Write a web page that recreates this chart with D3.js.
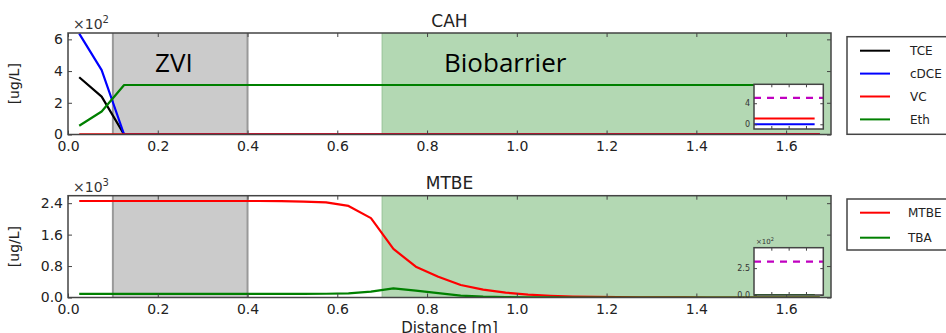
<!DOCTYPE html>
<html>
<head>
<meta charset="utf-8">
<script src="https://cdn.jsdelivr.net/npm/d3@7"></script>
<style>
  html, body { margin: 0; padding: 0; background: #fff; }
  svg { display: block; font-family: "DejaVu Sans", sans-serif; }
</style>
</head>
<body>
<svg id="chart" width="946" height="333"></svg>
<script>
// Distance along the column [m] (cell centres)
const distance = [0.025, 0.075, 0.125, 0.175, 0.225, 0.275, 0.325, 0.375, 0.425, 0.475,
                  0.525, 0.575, 0.625, 0.675, 0.725, 0.775, 0.825, 0.875, 0.925, 0.975,
                  1.025, 1.075, 1.125, 1.175, 1.225, 1.275, 1.325, 1.375, 1.425, 1.475,
                  1.525, 1.575, 1.625, 1.675];

// Chlorinated solvents and products [ug/L]
const tce  = [361, 239, 0, 0, 0, 0, 0, 0, 0, 0, 0, 0, 0, 0, 0, 0, 0, 0, 0, 0,
              0, 0, 0, 0, 0, 0, 0, 0, 0, 0, 0, 0, 0, 0];
const cdce = [636, 406, 0, 0, 0, 0, 0, 0, 0, 0, 0, 0, 0, 0, 0, 0, 0, 0, 0, 0,
              0, 0, 0, 0, 0, 0, 0, 0, 0, 0, 0, 0, 0, 0];
const vc   = [0.2, 0.6, 1.1, 1.1, 1.1, 1.1, 1.1, 1.1, 1.1, 1.1, 1.1, 1.1, 1.1, 1.1, 1.1, 1.1, 1.1,
              1.1, 1.1, 1.1, 1.1, 1.1, 1.1, 1.1, 1.1, 1.1, 1.1, 1.1, 1.1, 1.1, 1.1, 1.1, 1.1, 1.1];
const eth  = [55, 145, 312, 312, 312, 312, 312, 312, 312, 312, 312, 312, 312, 312, 312, 312, 312,
              312, 312, 312, 312, 312, 312, 312, 312, 312, 312, 312, 312, 312, 312, 312, 312, 312];

// Fuel oxygenates [ug/L]
const mtbe = [2455, 2455, 2455, 2455, 2455, 2455, 2455, 2455, 2455, 2452, 2440, 2420, 2330, 2020,
              1235, 785, 530, 318, 200, 125, 75, 45, 26, 15, 8, 4, 2, 1, 0, 0, 0, 0, 0, 0];
const tba  = [90, 90, 90, 90, 90, 90, 90, 90, 90, 90, 90, 95, 105, 150, 234, 175, 110, 50, 22, 10,
              4, 2, 0, 0, 0, 0, 0, 0, 0, 0, 0, 0, 0, 0];

// Regulatory limits shown in the zoom insets [ug/L]
const limitCAH = 5;
const limitMTBE = 310;

// Treatment zones [m]
const zviZone = [0.1, 0.4];
const bioZone = [0.7, 1.7];

// Axis ticks
const xTicks = [0, 0.2, 0.4, 0.6, 0.8, 1.0, 1.2, 1.4, 1.6];
const yTicksCAH = [0, 200, 400, 600];
const yTicksMTBE = [0, 800, 1600, 2400];
const insetXTicks = [1.55, 1.6, 1.65];
const insetYTicksCAH = [0, 4];
const insetYTicksMTBE = [0, 250];

const seriesCAH = [
  { name: "TCE",  values: tce,  color: "#000000" },
  { name: "cDCE", values: cdce, color: "#0000ff" },
  { name: "VC",   values: vc,   color: "#ff0000" },
  { name: "Eth",  values: eth,  color: "#008000" }
];
const seriesMTBE = [
  { name: "MTBE", values: mtbe, color: "#ff0000" },
  { name: "TBA",  values: tba,  color: "#008000" }
];

const svg = d3.select("#chart");
const frameColor = "#444";
const textColor = "#222";

const x = d3.scaleLinear().domain([0, 1.7]).range([68, 831]);

function drawPanel(cfg) {
  const g = svg.append("g");
  const y = d3.scaleLinear().domain(cfg.yDomain).range([cfg.bottom, cfg.top]);
  const clipId = "clip-" + cfg.id;
  svg.append("clipPath").attr("id", clipId).append("rect")
    .attr("x", x.range()[0]).attr("y", cfg.top)
    .attr("width", x.range()[1] - x.range()[0]).attr("height", cfg.bottom - cfg.top);

  // treatment zones
  g.append("rect").attr("x", x(zviZone[0])).attr("y", cfg.top)
    .attr("width", x(zviZone[1]) - x(zviZone[0])).attr("height", cfg.bottom - cfg.top)
    .attr("fill", "#cbcbcb");
  [zviZone[0], zviZone[1]].forEach(v => {
    g.append("line").attr("x1", x(v)).attr("x2", x(v)).attr("y1", cfg.top).attr("y2", cfg.bottom)
      .attr("stroke", "#999").attr("stroke-width", 2);
  });
  g.append("rect").attr("x", x(bioZone[0])).attr("y", cfg.top)
    .attr("width", x(bioZone[1]) - x(bioZone[0])).attr("height", cfg.bottom - cfg.top)
    .attr("fill", "#b3d8b3");
  g.append("line").attr("x1", x(bioZone[0])).attr("x2", x(bioZone[0])).attr("y1", cfg.top).attr("y2", cfg.bottom)
    .attr("stroke", "#9cc69c").attr("stroke-width", 1.2);

  // concentration profiles
  const line = d3.line().x((d, i) => x(distance[i])).y(d => y(d));
  const lg = g.append("g").attr("clip-path", `url(#${clipId})`);
  cfg.series.forEach(s => {
    lg.append("path").datum(s.values).attr("d", line)
      .attr("fill", "none").attr("stroke", s.color).attr("stroke-width", 2.2)
      .attr("stroke-linejoin", "round");
  });

  // axes (inward ticks on all four sides)
  const fs = "14px";
  const ax = g.append("g").attr("transform", `translate(0,${cfg.bottom})`)
    .call(d3.axisBottom(x).tickValues(xTicks).tickSizeInner(-4).tickSizeOuter(0).tickPadding(7)
      .tickFormat(d3.format(".1f")));
  ax.select(".domain").remove();
  ax.selectAll("text").attr("font-size", fs).attr("fill", textColor).attr("font-family", "DejaVu Sans");
  ax.selectAll("line").attr("stroke", frameColor);
  const axT = g.append("g").attr("transform", `translate(0,${cfg.top})`)
    .call(d3.axisTop(x).tickValues(xTicks).tickSizeInner(-4).tickSizeOuter(0).tickFormat(""));
  axT.select(".domain").remove();
  axT.selectAll("line").attr("stroke", frameColor);
  const ayL = g.append("g").attr("transform", `translate(${x.range()[0]},0)`)
    .call(d3.axisLeft(y).tickValues(cfg.yTicks).tickSizeInner(-4).tickSizeOuter(0).tickPadding(5)
      .tickFormat(cfg.yFormat));
  ayL.select(".domain").remove();
  ayL.selectAll("text").attr("font-size", fs).attr("fill", textColor).attr("font-family", "DejaVu Sans");
  ayL.selectAll("line").attr("stroke", frameColor);
  const ayR = g.append("g").attr("transform", `translate(${x.range()[1]},0)`)
    .call(d3.axisRight(y).tickValues(cfg.yTicks).tickSizeInner(-4).tickSizeOuter(0).tickFormat(""));
  ayR.select(".domain").remove();
  ayR.selectAll("line").attr("stroke", frameColor);

  g.append("rect").attr("x", x.range()[0]).attr("y", cfg.top)
    .attr("width", x.range()[1] - x.range()[0]).attr("height", cfg.bottom - cfg.top)
    .attr("fill", "none").attr("stroke", frameColor).attr("stroke-width", 1.5);

  // title, scale multiplier, y label
  g.append("text").attr("x", (x.range()[0] + x.range()[1]) / 2).attr("y", cfg.top - 6.5)
    .attr("text-anchor", "middle").attr("font-size", "17px").attr("fill", textColor).text(cfg.title);
  const mult = g.append("text").attr("x", 73).attr("y", cfg.top - 4)
    .attr("font-size", "14px").attr("fill", "#333");
  mult.append("tspan").text("\u00d710");
  mult.append("tspan").attr("dy", -6).attr("font-size", "10px").text(cfg.exponent);
  g.append("text").attr("transform", `translate(19,${(cfg.top + cfg.bottom) / 2}) rotate(-90)`)
    .attr("text-anchor", "middle").attr("font-size", "14px").attr("fill", textColor).text("[ug/L]");

  // zoom inset near the outlet
  const ib = cfg.inset;
  const ix = d3.scaleLinear().domain([1.5, 1.7]).range([ib.left, ib.right]);
  const iy = d3.scaleLinear().domain(ib.yDomain).range([ib.bottom, ib.top]);
  const ig = g.append("g");
  const iclip = "iclip-" + cfg.id;
  svg.append("clipPath").attr("id", iclip).append("rect")
    .attr("x", ib.left).attr("y", ib.top).attr("width", ib.right - ib.left).attr("height", ib.bottom - ib.top);
  ig.append("rect").attr("x", ib.left).attr("y", ib.top).attr("width", ib.right - ib.left)
    .attr("height", ib.bottom - ib.top).attr("fill", "#fff");
  const iline = d3.line().x((d, i) => ix(distance[i])).y(d => iy(d));
  const ilg = ig.append("g").attr("clip-path", `url(#${iclip})`);
  ilg.append("line").attr("x1", ix(1.5)).attr("x2", ix(1.7))
    .attr("y1", iy(ib.limit)).attr("y2", iy(ib.limit))
    .attr("stroke", "#c000c0").attr("stroke-width", 2.2).attr("stroke-dasharray", "7,6");
  ib.series.forEach(s => {
    ilg.append("path").datum(s.values).attr("d", iline)
      .attr("fill", "none").attr("stroke", s.color).attr("stroke-width", 2);
  });
  const ifs = "8px";
  const iax = ig.append("g").attr("transform", `translate(0,${ib.bottom})`)
    .call(d3.axisBottom(ix).tickValues(insetXTicks).tickSizeInner(-3).tickSizeOuter(0).tickFormat(""));
  const iaxT = ig.append("g").attr("transform", `translate(0,${ib.top})`)
    .call(d3.axisTop(ix).tickValues(insetXTicks).tickSizeInner(-3).tickSizeOuter(0).tickFormat(""));
  const iayL = ig.append("g").attr("transform", `translate(${ib.left},0)`)
    .call(d3.axisLeft(iy).tickValues(ib.yTicks).tickSizeInner(-3).tickSizeOuter(0).tickPadding(4)
      .tickFormat(ib.yFormat));
  const iayR = ig.append("g").attr("transform", `translate(${ib.right},0)`)
    .call(d3.axisRight(iy).tickValues(ib.yTicks).tickSizeInner(-3).tickSizeOuter(0).tickFormat(""));
  [iax, iaxT, iayL, iayR].forEach(a => {
    a.select(".domain").remove();
    a.selectAll("line").attr("stroke", frameColor);
    a.selectAll("text").attr("font-size", ifs).attr("fill", "#333").attr("font-family", "DejaVu Sans");
  });
  ig.append("rect").attr("x", ib.left).attr("y", ib.top).attr("width", ib.right - ib.left)
    .attr("height", ib.bottom - ib.top).attr("fill", "none").attr("stroke", frameColor).attr("stroke-width", 1.5);
  if (ib.exponent) {
    const im = ig.append("text").attr("x", ib.left + 2).attr("y", ib.top - 4)
      .attr("font-size", "7px").attr("fill", "#333");
    im.append("tspan").text("\u00d710");
    im.append("tspan").attr("dy", -3).attr("font-size", "5px").text(ib.exponent);
  }

  // legend
  const L = cfg.legend;
  svg.append("rect").attr("x", 847).attr("y", L.top).attr("width", 110).attr("height", L.bottom - L.top)
    .attr("fill", "#fff").attr("stroke", frameColor).attr("stroke-width", 1.5);
  cfg.series.forEach((s, i) => {
    const yy = L.first + i * L.step;
    svg.append("line").attr("x1", 860).attr("x2", 890).attr("y1", yy).attr("y2", yy)
      .attr("stroke", s.color).attr("stroke-width", 2);
    svg.append("text").attr("x", L.textX).attr("y", yy).attr("dy", "0.36em")
      .attr("font-size", "12px").attr("fill", textColor).text(s.name);
  });
  return y;
}

drawPanel({
  id: "cah", title: "CAH", exponent: "2",
  top: 33, bottom: 134.5, yDomain: [0, 640], yTicks: yTicksCAH,
  yFormat: d => String(d / 100),
  series: seriesCAH,
  inset: { left: 754, right: 823.3, top: 84.3, bottom: 129, yDomain: [-0.9, 7.6],
           yTicks: insetYTicksCAH, yFormat: d => String(d), limit: limitCAH,
           series: [seriesCAH[2], seriesCAH[1]] },
  legend: { top: 36.7, bottom: 134.3, first: 50.7, step: 22.9, textX: 910 }
});

drawPanel({
  id: "mtbe", title: "MTBE", exponent: "3",
  top: 195.7, bottom: 297.5, yDomain: [0, 2590], yTicks: yTicksMTBE,
  yFormat: d => (d / 1000).toFixed(1),
  series: seriesMTBE,
  inset: { left: 754, right: 823.3, top: 247.7, bottom: 295, yDomain: [0, 440],
           yTicks: insetYTicksMTBE, yFormat: d => (d / 100).toFixed(1), limit: limitMTBE,
           series: seriesMTBE, exponent: "2" },
  legend: { top: 199, bottom: 250, first: 212.7, step: 25, textX: 908 }
});

// zone labels
svg.append("text").attr("x", 155).attr("y", 71.5).attr("font-family", "Open Sans, sans-serif")
  .attr("font-size", "26px").attr("fill", "#000").text("ZVI");
svg.append("text").attr("x", 444).attr("y", 71.5).attr("font-family", "Open Sans, sans-serif")
  .attr("font-size", "26px").attr("fill", "#000").text("Biobarrier");

// shared x label
svg.append("text").attr("x", 449.5).attr("y", 333).attr("text-anchor", "middle")
  .attr("font-size", "15px").attr("fill", textColor).text("Distance [m]");
</script>
</body>
</html>
